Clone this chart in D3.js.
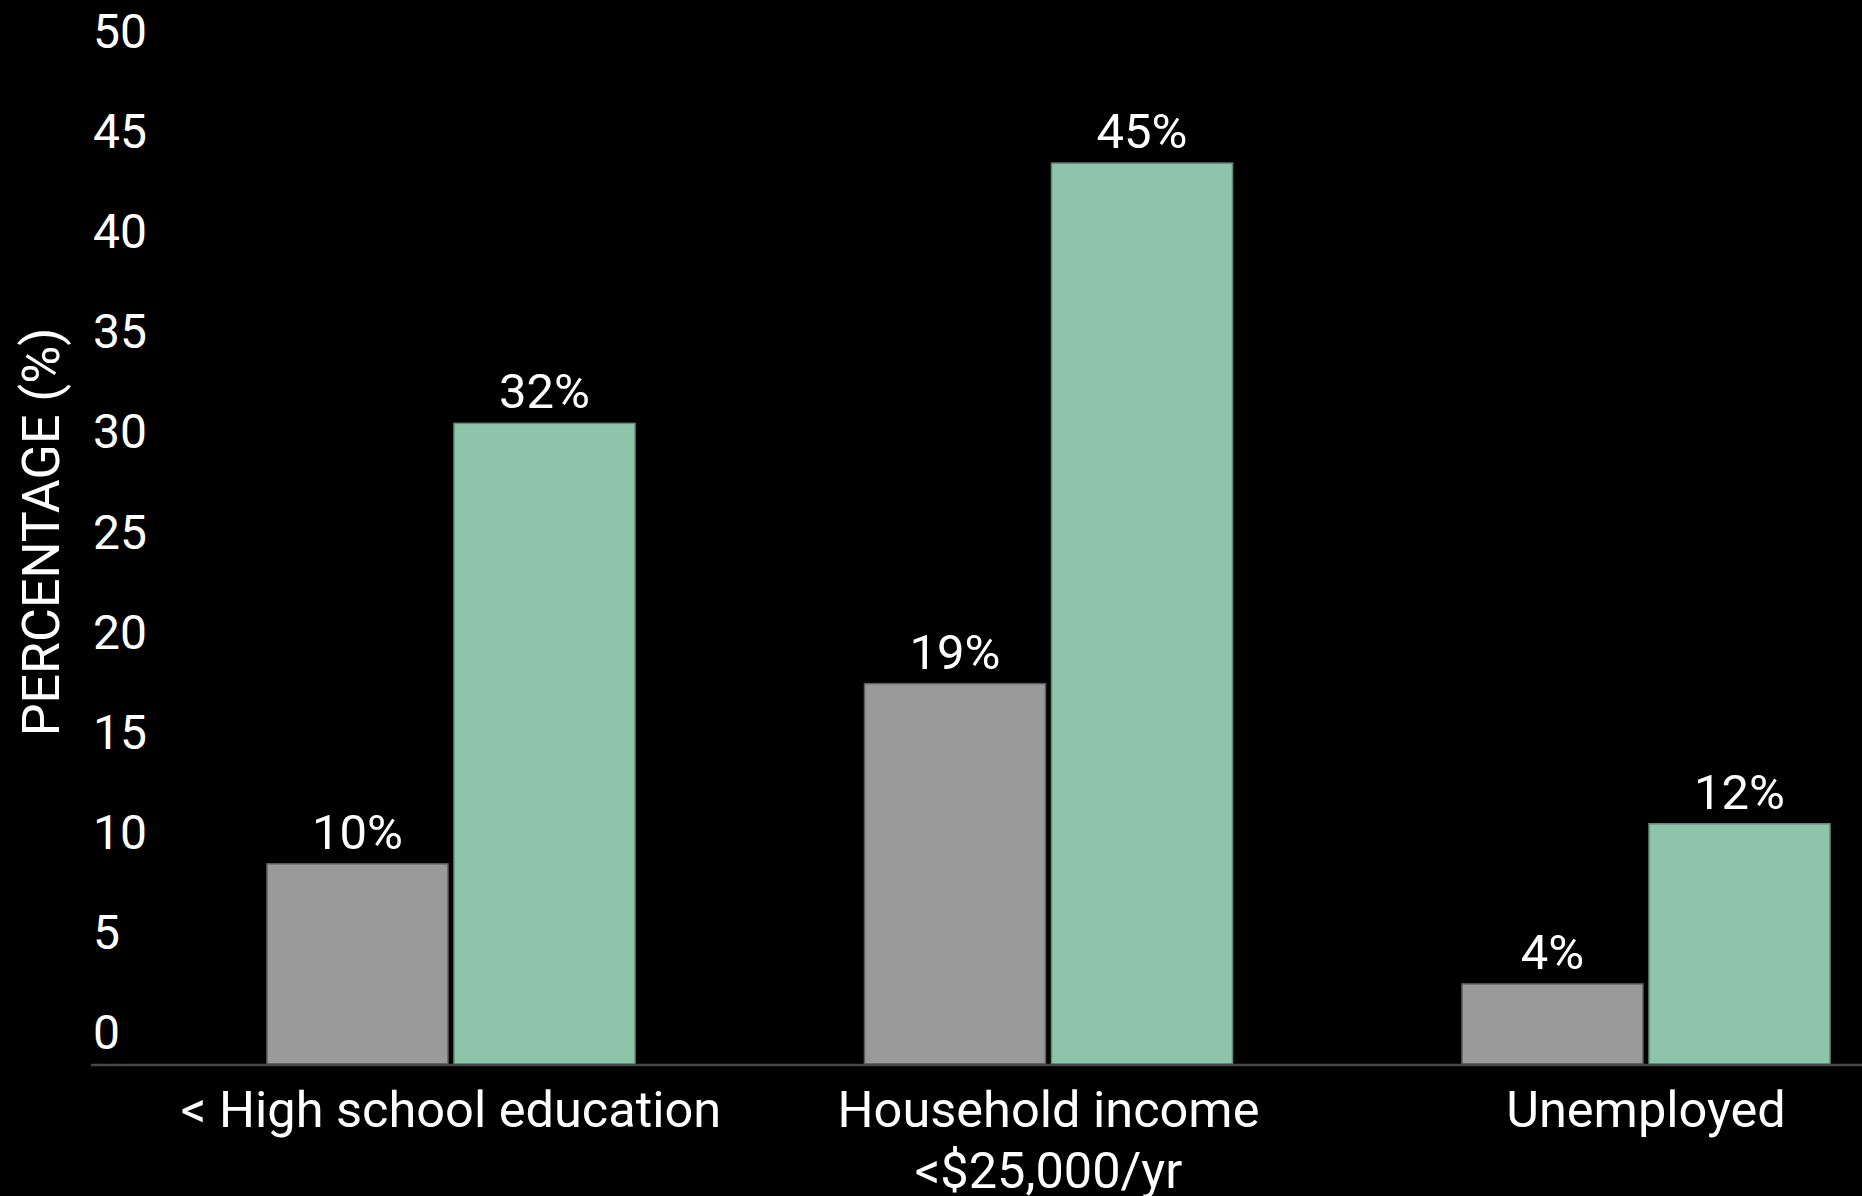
<!DOCTYPE html>
<html>
<head>
<meta charset="utf-8">
<script src="https://cdn.jsdelivr.net/npm/d3@7"></script>
<style>
  html, body { margin: 0; padding: 0; background: #000; overflow: hidden; }
  svg { display: block; }
  text { font-family: Roboto, "Noto Sans", sans-serif; fill: #fff; }
</style>
</head>
<body>
<svg id="chart" width="1862" height="1196"></svg>
<script>
// ---- data ----
const categories = ["< High school education", "Household income\n<$25,000/yr", "Unemployed"];
const seriesNames = ["Comparison group", "Study group"];
const seriesA = [10, 19, 4];   // grey bars
const seriesB = [32, 45, 12];  // green bars
const yTicks = [0, 5, 10, 15, 20, 25, 30, 35, 40, 45, 50];
const yTitle = "PERCENTAGE (%)";
const colors = ["#9a9a9a", "#8ec4a9"];
const strokes = ["#5e5e5e", "#5f8f76"];

const svg = d3.select("#chart");
const W = 1862, H = 1196;
svg.append("rect").attr("width", W).attr("height", H).attr("fill", "#000");

const y = d3.scaleLinear().domain([0, 50]).range([1064, 63]);
const x0 = d3.scaleBand().domain(categories).range([91, 2006])
  .paddingInner(0.384).paddingOuter(0.2945);
const x1 = d3.scaleBand().domain(seriesNames).range([0, x0.bandwidth()]).paddingInner(0.032);

const rows = categories.map((c, i) => ({ cat: c, vals: [seriesA[i], seriesB[i]] }));

// y tick labels (no axis line / ticks)
const yAxis = d3.axisLeft(y).tickValues(yTicks).tickSize(0).tickFormat(d3.format("d"));
const gy = svg.append("g").attr("transform", "translate(91,0)").call(yAxis);
gy.select(".domain").remove();
gy.selectAll(".tick text")
  .attr("x", 2).attr("dy", -15.5)
  .attr("text-anchor", "start")
  .style("font-family", "Roboto, sans-serif")
  .style("font-size", "48px")
  .style("fill", "#fff");

// y title
svg.append("text")
  .attr("transform", "translate(59,532) rotate(-90)")
  .attr("text-anchor", "middle")
  .style("font-size", "52px")
  .style("font-weight", 400)
  .text(yTitle);

// bars
const groups = svg.selectAll("g.grp").data(rows).join("g")
  .attr("class", "grp")
  .attr("transform", d => `translate(${x0(d.cat)},0)`);

groups.selectAll("rect").data(d => d.vals.map((v, j) => ({ v, j }))).join("rect")
  .attr("x", d => x1(seriesNames[d.j]))
  .attr("width", x1.bandwidth())
  .attr("y", d => y(d.v))
  .attr("height", d => y(0) - y(d.v))
  .attr("fill", d => colors[d.j])
  .attr("stroke", d => strokes[d.j])
  .attr("stroke-width", 1.5);

groups.selectAll("text.val").data(d => d.vals.map((v, j) => ({ v, j }))).join("text")
  .attr("class", "val")
  .attr("x", d => x1(seriesNames[d.j]) + x1.bandwidth() / 2)
  .attr("y", d => y(d.v) - 15)
  .attr("text-anchor", "middle")
  .style("font-size", "49px")
  .style("font-weight", 400)
  .text(d => d.v + "%");

// x axis line
svg.append("line")
  .attr("x1", 91).attr("x2", W)
  .attr("y1", y(0) + 1).attr("y2", y(0) + 1)
  .attr("stroke", "#474747").attr("stroke-width", 2.5);

// category labels
const xAxis = d3.axisBottom(x0).tickSize(0).tickFormat("");
const gx = svg.append("g").attr("transform", `translate(0,${y(0)})`).call(xAxis);
gx.select(".domain").remove();
gx.selectAll(".tick").each(function(d) {
  const t = d3.select(this).append("text")
    .attr("text-anchor", "middle")
    .attr("y", 63)
    .style("font-size", "50.5px")
    .style("font-weight", 400)
    .style("fill", "#fff");
  d.split("\n").forEach((line, i) => {
    t.append("tspan").attr("x", 0).attr("dy", i === 0 ? 0 : 61).text(line);
  });
});
</script>
</body>
</html>
